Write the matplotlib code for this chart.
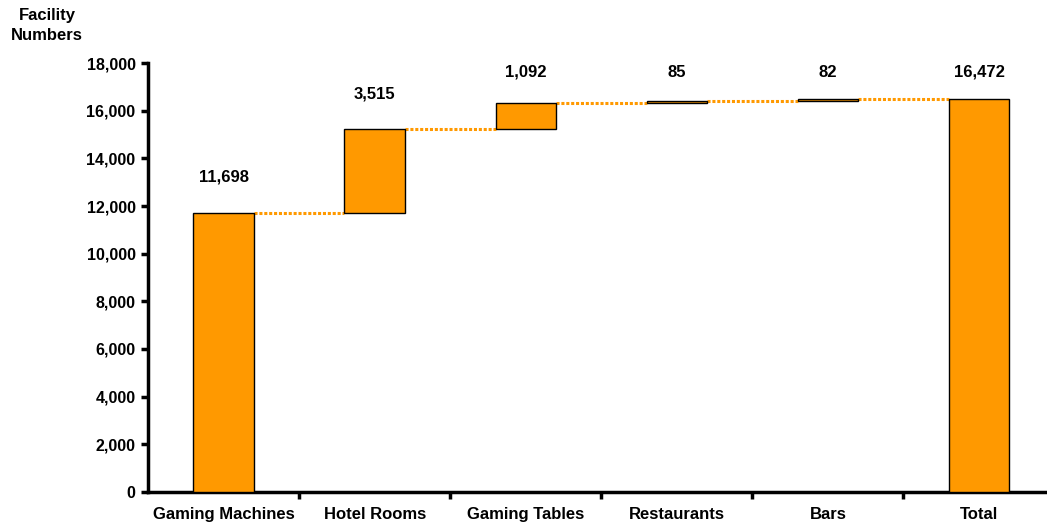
import matplotlib
matplotlib.use('Agg')
import matplotlib.pyplot as plt
import numpy as np

plt.rcParams['font.family'] = ['Liberation Sans', 'DejaVu Sans']
plt.rcParams['font.weight'] = 'bold'

categories = ["Gaming Machines", "Hotel Rooms", "Gaming Tables", "Restaurants", "Bars", "Total"]
steps = [11698, 3515, 1092, 85, 82]
total = 16472
yticks = np.arange(0, 18001, 2000)

orange = '#FF9900'

# waterfall: each step sits on top of the running sum
bottoms = np.concatenate(([0], np.cumsum(steps)[:-1]))
heights = steps + [total]
bottoms = list(bottoms) + [0]
tops = [b + h for b, h in zip(bottoms, heights)]

fig = plt.figure(figsize=(10.47, 5.23), dpi=100)
ax = fig.add_axes([0.1414, 0.0593, 0.8586, 0.8202])

x = np.arange(len(categories))
w = 0.4
ax.bar(x, heights, w, bottom=bottoms, color=orange, edgecolor='black', linewidth=1.0, zorder=3)

# dotted connectors between neighbouring bars
for i in range(len(categories) - 1):
    lvl = tops[i] if i < len(steps) else total
    ax.plot([x[i] + w / 2, x[i + 1] - w / 2], [lvl, lvl], color=orange,
            linestyle=(0, (1, 0.6)), linewidth=2.2, zorder=2)

# value labels
for xi, h, t in zip(x, heights, tops):
    ax.text(xi, min(t + 1500, 17620), f"{h:,}", ha='center', va='center',
            fontsize=12, fontweight='bold')

ax.set_xlim(-0.5, 5.45)
ax.set_ylim(0, 18000)
ax.set_yticks(yticks)
ax.set_yticklabels([f"{v:,}" for v in yticks], fontsize=11.5, fontweight='bold')
ax.set_xticks(x)
ax.set_xticklabels(categories, fontsize=12, fontweight='bold')
ax.tick_params(axis='x', which='major', length=0, pad=11)
ax.set_xticks(x[:-1] + 0.5, minor=True)
ax.tick_params(axis='x', which='minor', length=5, width=2.5, direction='out')
ax.tick_params(axis='y', length=5, width=2.5, direction='out', pad=4)

for s in ['top', 'right']:
    ax.spines[s].set_visible(False)
for s in ['left', 'bottom']:
    ax.spines[s].set_linewidth(2.5)

fig.text(0.045, 0.985, "Facility\nNumbers", ha='center', va='top',
         fontsize=12, fontweight='bold', linespacing=1.4)

fig.savefig("out.png", dpi=100)
